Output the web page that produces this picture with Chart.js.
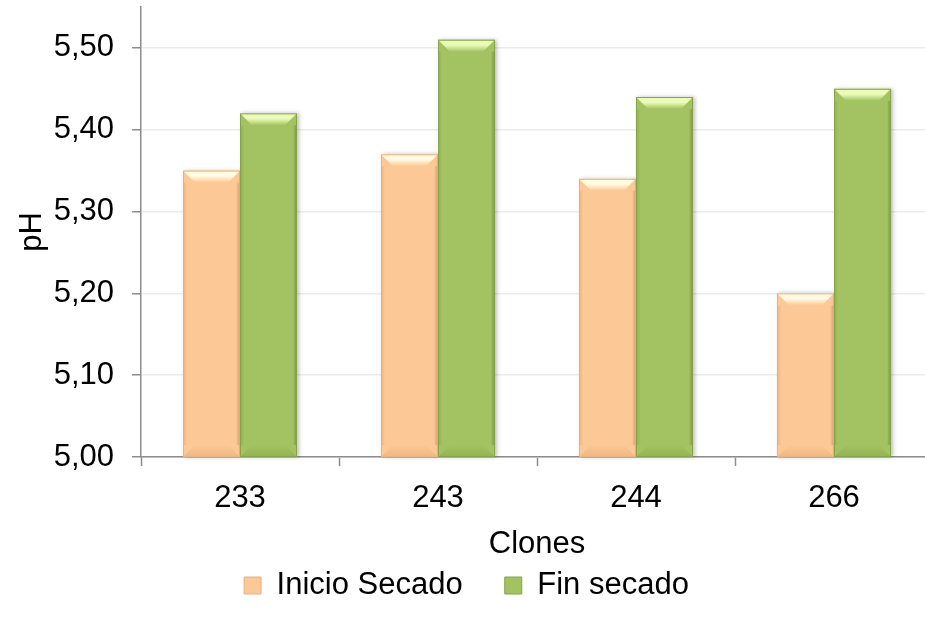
<!DOCTYPE html>
<html>
<head>
<meta charset="utf-8">
<script src="https://cdn.jsdelivr.net/npm/chart.js@4"></script>
<style>
    html, body { margin: 0; padding: 0; background: #fff; overflow: hidden; }
    #wrap { width: 925px; height: 625px; overflow: hidden; }
</style>
</head>
<body>
<div id="wrap"><canvas id="phChart" width="940" height="625"></canvas></div>
<script>
const clones = ['233', '243', '244', '266'];
const inicioSecado = [5.35, 5.37, 5.34, 5.20];
const finSecado = [5.42, 5.51, 5.44, 5.45];
const yTicks = [5.0, 5.1, 5.2, 5.3, 5.4, 5.5];

const FONT = '"Liberation Sans", Arial, sans-serif';

// bevel look like the office chart
const bevelPlugin = {
    id: 'bevel',
    afterDatasetsDraw(chart) {
        const ctx = chart.ctx;
        const area = chart.chartArea;
        const shades = [
            { hi: '#fffbe2', side: '#eab07c', edge: '#d99f6c', low: '#efb782' },
            { hi: '#eafcb8', side: '#8fad50', edge: '#78933f', low: '#93b254' }
        ];
        chart.data.datasets.forEach((ds, i) => {
            const s = shades[i];
            chart.getDatasetMeta(i).data.forEach(bar => {
                const l = bar.x - bar.width / 2;
                const r = bar.x + bar.width / 2;
                const t = Math.min(bar.y, bar.base);
                const b = Math.min(Math.max(bar.y, bar.base), area.bottom);
                const d = 12;
                ctx.save();
                ctx.shadowColor = 'rgba(0,0,0,0.25)';
                ctx.shadowBlur = 4;
                ctx.shadowOffsetX = 2;
                ctx.fillStyle = ds.backgroundColor;
                ctx.fillRect(l, t, r - l, b - t);
                ctx.restore();
                ctx.save();
                // top
                const g = ctx.createLinearGradient(0, t, 0, t + d);
                g.addColorStop(0, s.hi);
                g.addColorStop(0.45, s.hi);
                g.addColorStop(1, ds.backgroundColor);
                ctx.fillStyle = g;
                ctx.beginPath();
                ctx.moveTo(l, t); ctx.lineTo(r, t); ctx.lineTo(r - d, t + d); ctx.lineTo(l + d, t + d);
                ctx.closePath(); ctx.fill();
                // bottom
                const g2 = ctx.createLinearGradient(0, b - d, 0, b);
                g2.addColorStop(0, ds.backgroundColor);
                g2.addColorStop(1, s.low);
                ctx.fillStyle = g2;
                ctx.beginPath();
                ctx.moveTo(l, b); ctx.lineTo(r, b); ctx.lineTo(r - d, b - d); ctx.lineTo(l + d, b - d);
                ctx.closePath(); ctx.fill();
                // sides
                const gl = ctx.createLinearGradient(l, 0, l + 4, 0);
                gl.addColorStop(0, s.side);
                gl.addColorStop(1, ds.backgroundColor);
                ctx.fillStyle = gl;
                ctx.fillRect(l, t + d, 4, b - t - 2 * d);
                const gr = ctx.createLinearGradient(r - 4, 0, r, 0);
                gr.addColorStop(0, ds.backgroundColor);
                gr.addColorStop(1, s.edge);
                ctx.fillStyle = gr;
                ctx.fillRect(r - 4, t + d, 4, b - t - 2 * d);
                ctx.strokeStyle = ds.borderColor;
                ctx.lineWidth = 1;
                ctx.strokeRect(l + 0.5, t + 0.5, r - l - 1, b - t - 1);
                ctx.restore();
            });
        });
    }
};

new Chart(document.getElementById('phChart').getContext('2d'), {
    type: 'bar',
    data: {
        labels: clones,
        datasets: [{
            label: 'Inicio Secado',
            data: inicioSecado,
            backgroundColor: '#fcc895',
            borderColor: '#e6b384',
            borderWidth: 1
        }, {
            label: 'Fin secado',
            data: finSecado,
            backgroundColor: '#a3c261',
            borderColor: '#86a44b',
            borderWidth: 1
        }]
    },
    options: {
        responsive: false,
        animation: false,
        layout: { padding: { left: 0, right: 7, top: 7, bottom: 14 } },
        datasets: {
            bar: { categoryPercentage: 0.576, barPercentage: 1.0 }
        },
        scales: {
            x: {
                afterFit: scale => {
                    scale.height = 71;
                    scale.paddingLeft = 0;
                    scale.paddingRight = 0;
                },
                grid: {
                    offset: true,
                    drawOnChartArea: false,
                    tickLength: 9,
                    tickColor: '#8c8c8c',
                    tickWidth: 1.5
                },
                border: { color: '#8c8c8c', width: 1.5 },
                ticks: { color: '#000', font: { family: FONT, size: 31 }, padding: 14 },
                title: {
                    display: true,
                    text: 'Clones',
                    color: '#000',
                    font: { family: FONT, size: 31 },
                    padding: { top: 0, bottom: -35 }
                }
            },
            y: {
                min: 5.0,
                max: 5.55,
                beginAtZero: false,
                afterFit: scale => {
                    scale.width = 141;
                    scale.paddingTop = 0;
                    scale.paddingBottom = 0;
                },
                grid: {
                    color: '#ececec',
                    lineWidth: 1.5,
                    tickLength: 9,
                    tickColor: '#8c8c8c',
                    tickWidth: 1.5
                },
                border: { color: '#8c8c8c', width: 1.5 },
                afterBuildTicks: axis => {
                    axis.ticks = yTicks.map(v => ({ value: v }));
                },
                ticks: {
                    color: '#000',
                    font: { family: FONT, size: 31 },
                    padding: 18,
                    callback: v => v.toFixed(2).replace('.', ',')
                },
                title: {
                    display: true,
                    text: 'pH',
                    color: '#000',
                    font: { family: FONT, size: 31 },
                    padding: { top: 14, bottom: 0 }
                }
            }
        },
        plugins: {
            legend: {
                position: 'bottom',
                labels: {
                    color: '#000',
                    font: { family: FONT, size: 31 },
                    boxWidth: 17,
                    boxHeight: 17,
                    padding: 42
                }
            },
            tooltip: { enabled: false }
        }
    },
    plugins: [bevelPlugin]
});
</script>
</body>
</html>
